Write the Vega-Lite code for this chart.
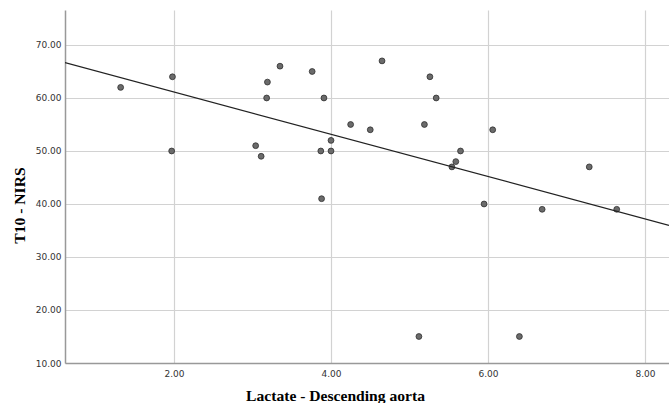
{
  "$schema": "https://vega.github.io/schema/vega-lite/v6.json",
  "autosize": "none",
  "width": 604,
  "height": 353,
  "padding": {"left": 65, "top": 10, "right": 0, "bottom": 40},
  "background": "white",
  "config": {
    "view": {"stroke": null},
    "axis": {
      "labelFont": "DejaVu Sans",
      "labelFontSize": 9,
      "labelColor": "#333333",
      "titleFont": "Liberation Serif",
      "titleFontSize": 15.6,
      "titleFontWeight": "bold",
      "titleColor": "#000000",
      "gridColor": "#d2d2d2",
      "gridWidth": 1.2,
      "gridOpacity": 1,
      "domainColor": "#999999",
      "domainWidth": 1.5,
      "ticks": false
    }
  },
  "data": {
    "values": [
      {"lactate": 1.32, "nirs": 62},
      {"lactate": 1.98, "nirs": 64},
      {"lactate": 1.97, "nirs": 50},
      {"lactate": 3.04, "nirs": 51},
      {"lactate": 3.11, "nirs": 49},
      {"lactate": 3.18, "nirs": 60},
      {"lactate": 3.19, "nirs": 63},
      {"lactate": 3.35, "nirs": 66},
      {"lactate": 3.76, "nirs": 65},
      {"lactate": 3.91, "nirs": 60},
      {"lactate": 3.87, "nirs": 50},
      {"lactate": 4.0, "nirs": 52},
      {"lactate": 4.0, "nirs": 50},
      {"lactate": 3.88, "nirs": 41},
      {"lactate": 4.65, "nirs": 67},
      {"lactate": 5.26, "nirs": 64},
      {"lactate": 5.34, "nirs": 60},
      {"lactate": 4.25, "nirs": 55},
      {"lactate": 4.5, "nirs": 54},
      {"lactate": 5.19, "nirs": 55},
      {"lactate": 6.06, "nirs": 54},
      {"lactate": 5.65, "nirs": 50},
      {"lactate": 5.59, "nirs": 48},
      {"lactate": 5.54, "nirs": 47},
      {"lactate": 7.29, "nirs": 47},
      {"lactate": 5.95, "nirs": 40},
      {"lactate": 6.69, "nirs": 39},
      {"lactate": 7.64, "nirs": 39},
      {"lactate": 5.12, "nirs": 15},
      {"lactate": 6.4, "nirs": 15}
    ]
  },
  "encoding": {
    "x": {
      "field": "lactate",
      "type": "quantitative",
      "scale": {"domain": [0.611, 8.306], "nice": false, "zero": false},
      "axis": {
        "title": "Lactate - Descending aorta",
        "values": [2, 4, 6, 8],
        "format": ".2f",
        "labelPadding": 6,
        "titleX": 270,
        "titleY": 37,
        "titleBaseline": "alphabetic",
        "titleAlign": "center"
      }
    },
    "y": {
      "field": "nirs",
      "type": "quantitative",
      "scale": {"domain": [10, 76.6], "nice": false, "zero": false},
      "axis": {
        "title": "T10 - NIRS",
        "values": [10, 20, 30, 40, 50, 60, 70],
        "format": ".2f",
        "labelPadding": 4,
        "titleX": -41,
        "titleY": 195,
        "titleAngle": -90,
        "titleAlign": "center",
        "titleBaseline": "alphabetic"
      }
    }
  },
  "layer": [
    {
      "mark": {"type": "point", "shape": "circle", "filled": true, "size": 34, "color": "#6b6b6b", "stroke": "#2e2e2e", "strokeWidth": 0.8, "opacity": 1}
    },
    {
      "transform": [{"regression": "nirs", "on": "lactate", "extent": [0.611, 8.306]}],
      "mark": {"type": "line", "color": "#222222", "strokeWidth": 1.2, "clip": true}
    }
  ]
}
